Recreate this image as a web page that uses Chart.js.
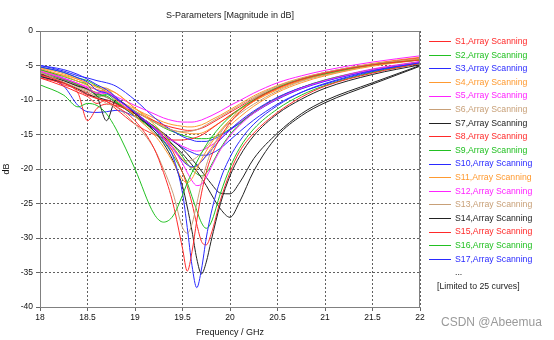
<!DOCTYPE html>
<html>
<head>
<meta charset="utf-8">
<script src="https://cdn.jsdelivr.net/npm/chart.js@4/dist/chart.umd.min.js"></script>
<style>
  body { margin: 0; background: #fff; }
  #wrap { position: relative; width: 554px; height: 340px; font-family: "Liberation Sans", Arial, sans-serif; }
  #title { position: absolute; left: 0; width: 460px; top: 10px; text-align: center; font-size: 9px; color: #222; }
  #legend { position: absolute; left: 429px; top: 35px; font-size: 8.7px; }
  .row { height: 13.6px; line-height: 13.6px; white-space: nowrap; }
  .row span.ln { display: inline-block; width: 22px; height: 0; border-top: 1px solid; vertical-align: middle; margin-right: 4px; }
  .note { color: #222; }
  #mark { position: absolute; left: 441px; top: 315px; font-size: 12px; color: #9a9a9a; }
</style>
</head>
<body>
<div id="wrap">
  <canvas id="sparChart" width="554" height="340"></canvas>
  <div id="title">S-Parameters [Magnitude in dB]</div>
  <div id="legend"></div>
  <div id="mark">CSDN @Abeemua</div>
</div>
<script>
// frequency points (GHz) shared by all curves
const freq = [18.0, 18.25, 18.4, 18.5, 18.6, 18.7, 18.8, 19.0, 19.2, 19.3, 19.4, 19.5, 19.55, 19.6,
              19.65, 19.7, 19.75, 19.8, 19.9, 20.0, 20.1, 20.25, 20.5, 20.75, 21.0, 21.5, 22.0];

const xTicks = [18, 18.5, 19, 19.5, 20, 20.5, 21, 21.5, 22];
const xTickLabels = ['18', '18.5', '19', '19.5', '20', '20.5', '21', '21.5', '22'];
const yTicks = [0, -5, -10, -15, -20, -25, -30, -35, -40];

// |S| in dB
const s1  = [-6.3, -7.5, -8.6, -9.3, -9.8, -10.2, -10.9, -13.0, -17.0, -20.5, -25.0, -31.5, -34.8, -32.0, -27.5, -23.5, -20.5, -18.3, -15.4, -13.3, -11.8, -10.1, -8.3, -7.0, -6.1, -4.9, -4.2];
const s2  = [-7.8, -9.3, -11.0, -10.5, -10.8, -12.0, -14.2, -20.0, -26.5, -27.7, -26.8, -23.8, -22.0, -20.5, -19.0, -17.7, -16.5, -15.5, -13.8, -12.4, -11.3, -10.0, -8.2, -7.0, -6.2, -4.9, -4.2];
const s3  = [-5.2, -6.0, -6.8, -7.4, -8.6, -9.0, -9.8, -11.8, -14.2, -15.8, -18.2, -23.5, -28.5, -34.0, -37.2, -34.5, -30.0, -26.5, -21.5, -18.3, -16.0, -13.5, -10.8, -8.9, -7.6, -5.8, -4.6];
const s4  = [-5.4, -6.5, -7.3, -7.9, -8.5, -8.8, -10.0, -12.3, -15.0, -16.8, -19.0, -21.5, -22.0, -21.4, -20.0, -18.6, -17.4, -16.3, -14.4, -12.9, -11.7, -10.2, -8.4, -7.1, -6.2, -4.9, -4.1];
const s5  = [-5.8, -6.9, -7.6, -8.3, -9.0, -8.8, -9.8, -11.8, -14.0, -15.4, -17.0, -19.2, -20.5, -21.7, -22.4, -22.2, -21.2, -19.8, -17.2, -15.2, -13.7, -11.9, -9.8, -8.3, -7.2, -5.6, -4.5];
const s6  = [-6.0, -7.4, -8.3, -8.8, -9.6, -10.5, -11.0, -13.5, -17.0, -20.0, -23.5, -28.5, -29.3, -28.0, -25.0, -22.0, -19.5, -17.5, -14.8, -12.9, -11.4, -9.8, -8.1, -6.9, -6.0, -4.8, -4.1];
const s7  = [-6.3, -7.2, -8.0, -8.4, -9.5, -13.0, -10.0, -12.0, -14.5, -16.3, -18.8, -22.5, -25.5, -29.0, -33.0, -35.2, -33.5, -30.5, -25.0, -21.0, -18.2, -15.2, -12.0, -9.9, -8.3, -6.3, -4.9];
const s8  = [-6.8, -8.0, -8.9, -9.5, -10.5, -10.0, -10.6, -12.0, -14.0, -15.5, -17.5, -20.5, -22.5, -25.0, -28.0, -30.5, -31.0, -29.5, -24.5, -20.5, -17.5, -14.8, -11.8, -9.6, -8.0, -6.1, -4.7];
const s9  = [-5.6, -6.6, -7.3, -7.8, -9.5, -9.2, -10.2, -12.3, -14.5, -16.0, -18.0, -20.5, -22.0, -24.0, -26.0, -27.8, -28.6, -27.8, -23.5, -19.8, -17.0, -14.2, -11.3, -9.3, -7.9, -6.0, -4.7];
const s10 = [-5.0, -5.6, -6.3, -7.0, -7.8, -8.5, -9.6, -11.8, -14.0, -15.4, -17.0, -18.8, -19.4, -19.7, -19.5, -18.9, -18.1, -17.3, -15.7, -14.3, -13.1, -11.6, -9.6, -8.2, -7.2, -5.7, -4.6];
const s11 = [-5.7, -6.4, -7.0, -7.5, -8.2, -8.5, -9.0, -11.2, -13.5, -15.0, -16.8, -18.6, -19.3, -19.8, -19.6, -18.9, -18.0, -17.0, -15.2, -13.7, -12.5, -10.9, -8.9, -7.5, -6.5, -5.1, -4.2];
const s12 = [-5.5, -6.8, -7.6, -8.1, -8.5, -8.9, -9.5, -10.8, -12.0, -12.6, -13.0, -13.2, -13.2, -13.2, -13.1, -12.9, -12.6, -12.3, -11.6, -10.8, -10.1, -9.0, -7.5, -6.5, -5.7, -4.5, -3.6];
const s13 = [-6.0, -7.2, -8.1, -8.6, -9.0, -8.3, -9.7, -11.6, -13.2, -13.9, -14.4, -14.6, -14.6, -14.5, -14.3, -14.0, -13.6, -13.2, -12.4, -11.6, -10.8, -9.6, -8.0, -6.9, -6.0, -4.8, -4.0];
const s14 = [-6.6, -7.5, -8.4, -9.2, -9.6, -10.0, -10.5, -12.3, -14.2, -15.3, -16.5, -17.8, -18.6, -19.4, -20.3, -21.3, -22.4, -23.6, -25.8, -27.0, -24.8, -20.3, -15.2, -12.3, -10.4, -7.7, -5.1];
const s15 = [-6.4, -7.8, -9.0, -13.0, -11.2, -10.6, -10.8, -11.8, -13.0, -13.6, -14.0, -14.3, -14.4, -14.4, -14.3, -14.1, -13.8, -13.4, -12.6, -11.8, -11.0, -9.8, -8.2, -7.0, -6.1, -4.8, -3.9];
const s16 = [-6.0, -7.0, -7.8, -8.5, -9.2, -9.4, -10.4, -12.0, -13.8, -15.0, -16.5, -18.2, -19.2, -20.1, -20.7, -21.0, -20.6, -19.5, -17.0, -15.0, -13.5, -11.8, -9.7, -8.2, -7.1, -5.6, -4.5];
const s17 = [-5.0, -5.8, -6.5, -6.8, -7.2, -7.5, -8.0, -10.0, -12.5, -13.6, -14.5, -15.3, -15.6, -15.8, -16.0, -16.0, -16.0, -15.8, -15.2, -14.3, -13.4, -11.9, -9.9, -8.4, -7.3, -5.7, -4.6];
const s18 = [-5.6, -6.9, -7.8, -8.3, -8.9, -8.7, -9.8, -11.3, -12.6, -13.2, -13.6, -13.8, -13.9, -13.9, -13.8, -13.6, -13.3, -12.9, -12.2, -11.4, -10.6, -9.4, -7.9, -6.8, -6.0, -4.7, -3.8];
const s19 = [-5.9, -7.0, -7.9, -8.5, -9.2, -9.0, -10.0, -12.0, -14.0, -15.0, -15.9, -16.7, -17.0, -17.3, -17.4, -17.3, -17.0, -16.6, -15.6, -14.4, -13.3, -11.7, -9.7, -8.2, -7.1, -5.5, -4.4];
const s20 = [-5.8, -6.9, -7.7, -8.3, -9.3, -9.6, -10.3, -12.4, -14.8, -16.0, -17.3, -18.6, -18.8, -18.7, -18.3, -17.6, -16.8, -16.0, -14.5, -13.2, -12.0, -10.6, -8.7, -7.3, -6.4, -5.0, -4.2];
const s21 = [-6.2, -7.0, -7.8, -8.4, -9.0, -9.6, -10.3, -12.0, -13.8, -14.8, -15.9, -17.1, -17.8, -18.6, -19.4, -20.3, -21.2, -22.1, -23.5, -23.6, -22.0, -18.5, -14.8, -12.0, -10.1, -7.5, -5.0];
const s22 = [-6.8, -7.6, -8.4, -9.0, -9.8, -10.2, -11.3, -13.5, -15.0, -15.5, -15.8, -15.8, -15.7, -15.6, -15.4, -15.1, -14.7, -14.2, -13.2, -12.2, -11.3, -10.0, -8.3, -7.1, -6.2, -4.9, -4.0];
const s23 = [-5.2, -6.0, -6.8, -7.2, -8.0, -8.8, -9.8, -11.6, -13.2, -14.0, -14.6, -15.1, -15.3, -15.5, -15.6, -15.6, -15.6, -15.5, -15.0, -14.2, -13.3, -11.8, -9.8, -8.3, -7.2, -5.6, -4.5];
const s24 = [-6.5, -8.0, -10.8, -11.7, -11.8, -11.7, -11.5, -12.4, -14.0, -15.0, -16.0, -16.9, -17.3, -17.6, -17.9, -18.0, -18.0, -17.8, -17.0, -15.8, -14.6, -12.9, -10.6, -8.9, -7.7, -5.9, -4.7];
const s25 = [-5.3, -6.2, -7.0, -7.6, -8.0, -8.3, -9.0, -11.2, -13.0, -13.8, -14.4, -14.7, -14.8, -14.9, -14.9, -14.8, -14.5, -14.1, -13.2, -12.3, -11.4, -10.2, -8.5, -7.2, -6.3, -5.0, -4.1];

const curves = [s1, s2, s3, s4, s5, s6, s7, s8, s9, s10, s11, s12, s13, s14, s15, s16, s17, s18, s19, s20, s21, s22, s23, s24, s25];
const names = curves.map((c, i) => 'S' + (i + 1) + ',Array Scanning');

// CST cycles through 7 colours
const palette = ['#ff2a2a', '#22c022', '#2a2aff', '#ff9a30', '#ff22ff', '#c8a078', '#222222'];
const legendShown = 17;

const datasets = curves.map((vals, i) => ({
    label: names[i],
    data: vals.map((v, k) => ({ x: freq[k], y: v })),
    borderColor: palette[i % palette.length],
    borderWidth: 1,
    pointRadius: 0,
    fill: false,
    cubicInterpolationMode: 'monotone'
}));

// plot frame drawn solid over the dotted grid
const frame = {
    id: 'frame',
    afterDatasetsDraw(chart) {
        const a = chart.chartArea, ctx = chart.ctx;
        ctx.save();
        ctx.strokeStyle = '#808080';
        ctx.lineWidth = 1;
        ctx.strokeRect(a.left + 0.5, a.top + 0.5, a.right - a.left - 1, a.bottom - a.top);
        ctx.restore();
    }
};

const tickFont = { family: '"Liberation Sans", Arial, sans-serif', size: 8.5 };
const titleFont = { family: '"Liberation Sans", Arial, sans-serif', size: 9 };

new Chart(document.getElementById('sparChart'), {
    type: 'line',
    data: { datasets: datasets },
    options: {
        responsive: false,
        animation: false,
        events: [],
        layout: { padding: { top: 31, right: 134, left: 0, bottom: 0 } },
        plugins: { legend: { display: false }, tooltip: { enabled: false } },
        scales: {
            x: {
                type: 'linear', min: 18, max: 22,
                afterBuildTicks: s => { s.ticks = xTicks.map(v => ({ value: v })); },
                afterFit: s => { s.height = 33; },
                ticks: { color: '#111', font: tickFont, padding: 2, maxRotation: 0,
                         callback: v => xTickLabels[xTicks.indexOf(v)] },
                grid: { color: '#606060', tickColor: '#666', tickLength: 4 },
                border: { color: '#808080', dash: [2, 2] },
                title: { display: true, text: 'Frequency / GHz', color: '#111', font: titleFont, padding: { top: 0, bottom: 2 } }
            },
            y: {
                min: -40, max: 0,
                afterBuildTicks: s => { s.ticks = yTicks.map(v => ({ value: v })); },
                afterFit: s => { s.width = 40; },
                ticks: { color: '#111', font: tickFont, padding: 3 },
                grid: { color: '#606060', tickColor: '#666', tickLength: 4 },
                border: { color: '#808080', dash: [2, 2] },
                title: { display: true, text: 'dB', color: '#111', font: titleFont, padding: { top: 1, bottom: 0 } }
            }
        }
    },
    plugins: [frame]
});

// legend: CST only lists the first curves
const legend = document.getElementById('legend');
for (let i = 0; i < legendShown; i++) {
    const row = document.createElement('div');
    row.className = 'row';
    const col = palette[i % palette.length];
    row.style.color = col;
    row.innerHTML = '<span class="ln" style="border-color:' + col + '"></span>' + names[i];
    legend.appendChild(row);
}
const dots = document.createElement('div');
dots.className = 'row note';
dots.style.paddingLeft = '26px';
dots.textContent = '...';
legend.appendChild(dots);
const lim = document.createElement('div');
lim.className = 'row note';
lim.style.paddingLeft = '8px';
lim.textContent = '[Limited to 25 curves]';
legend.appendChild(lim);
</script>
</body>
</html>
